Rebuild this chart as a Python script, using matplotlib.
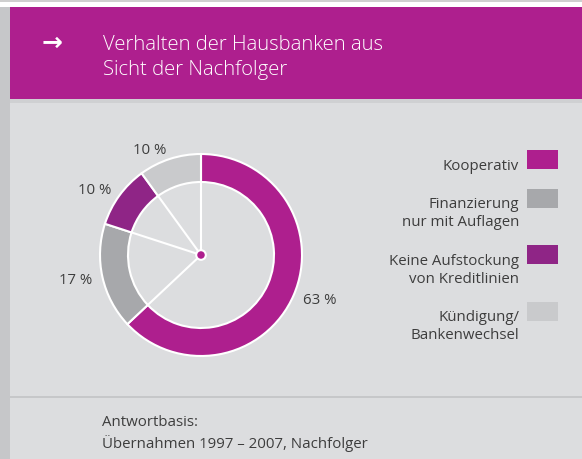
import matplotlib
matplotlib.use("Agg")
import matplotlib.pyplot as plt
from matplotlib.patches import Rectangle, Circle
import numpy as np

plt.rcParams['font.family'] = ['Open Sans', 'DejaVu Sans']

# chart content
title_lines = ["Verhalten der Hausbanken aus", "Sicht der Nachfolger"]
categories = ["Kooperativ",
              "Finanzierung\nnur mit Auflagen",
              "Keine Aufstockung\nvon Kreditlinien",
              "Kündigung/\nBankenwechsel"]
shares = [63, 17, 10, 10]
colors = ["#ae1f8e", "#a7a8ab", "#8f2586", "#c9cacc"]
footer_lines = ["Antwortbasis:", "Übernahmen 1997 – 2007, Nachfolger"]

BG = "#dcdddf"
TXT = "#3d3d3d"
FS = 10.8
W, H = 582, 460

fig = plt.figure(figsize=(W / 100, H / 100), dpi=100, facecolor=BG)

# background frame in pixel coordinates
bg = fig.add_axes([0, 0, 1, 1])
bg.set_xlim(0, W)
bg.set_ylim(H, 0)
bg.axis('off')
bg.add_patch(Rectangle((0, 0), W, 3, fc="#cfcfcf", ec='none'))
bg.add_patch(Rectangle((0, 3), W, 5, fc="white", ec='none'))
bg.add_patch(Rectangle((0, 8), 10, H - 8, fc="#c6c7c9", ec='none'))
bg.add_patch(Rectangle((10, 8), W - 10, 92, fc=colors[0], ec='none'))
bg.add_patch(Rectangle((10, 100), W - 10, 4, fc="#cfd0d2", ec='none'))
bg.add_patch(Rectangle((10, 397), W - 10, 2, fc="#c6c7c9", ec='none'))

bg.text(52, 43, "→", color="white", fontsize=18, fontweight='bold',
        ha='center', va='center', family=['DejaVu Sans'])
for j, line in enumerate(title_lines):
    bg.text(103, 50 + j * 25, line, color="white", fontsize=14.6,
            fontweight='light', ha='left', va='baseline')

# legend
top = 151
for lab, col in zip(categories, colors):
    bg.add_patch(Rectangle((527, top), 31, 19, fc=col, ec='none'))
    lines = lab.split('\n')
    for j, line in enumerate(lines):
        bg.text(519, top + 19 + j * 18, line, color=TXT, fontsize=FS,
                ha='right', va='baseline')
    top += len(lines) * 18 + 20.5

# footer
for j, line in enumerate(footer_lines):
    bg.text(102, 426 + j * 22, line, color=TXT, fontsize=FS,
            ha='left', va='baseline')

# donut
cx, cy, size = 201, 256, 240
ax = fig.add_axes([(cx - size / 2) / W, (H - cy - size / 2) / H, size / W, size / H])
ax.set_facecolor('none')
wedges, texts = ax.pie(shares, colors=colors, startangle=90, counterclock=False,
                       radius=1.01, labels=[f"{v} %" for v in shares],
                       labeldistance=1.1,
                       wedgeprops=dict(width=0.28, edgecolor='white', linewidth=1.5),
                       textprops=dict(color=TXT, fontsize=FS))
inner = 0.73
bounds = 90 - 360 * np.cumsum([0] + shares[:-1]) / sum(shares)
for a in np.radians(bounds):
    ax.plot([0, inner * np.cos(a)], [0, inner * np.sin(a)], color='white', lw=1.5)
ax.add_patch(Circle((0, 0), 0.048, fc=colors[0], ec='white', lw=1.5, zorder=5))
ax.set_xlim(-1.2, 1.2)
ax.set_ylim(-1.2, 1.2)
ax.set_aspect('equal')
ax.axis('off')

fig.savefig("out.png", dpi=100, facecolor=BG)
